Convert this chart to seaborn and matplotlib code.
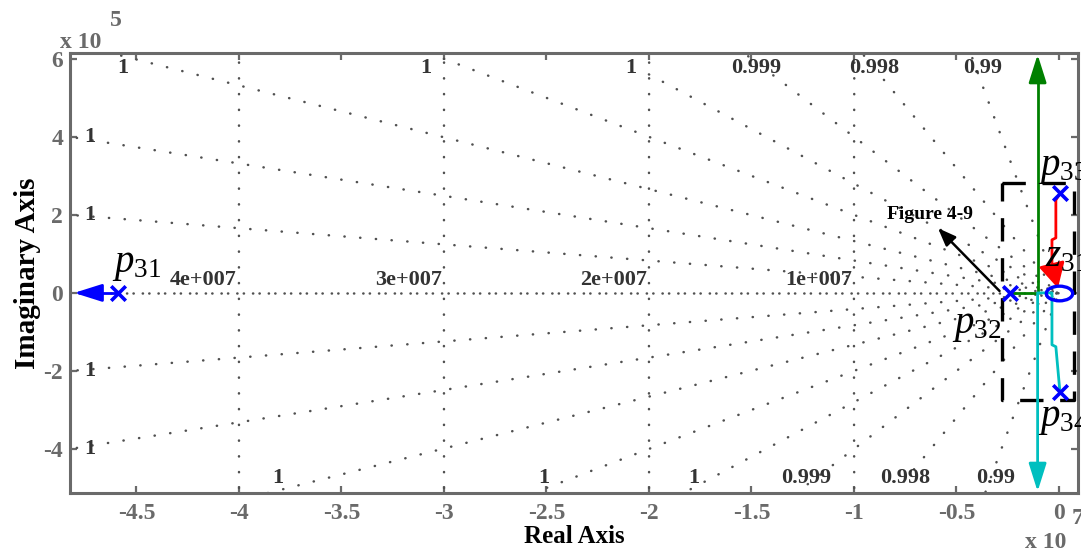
import numpy as np
import matplotlib
matplotlib.use("Agg")
import matplotlib.pyplot as plt
import seaborn as sns
from matplotlib.path import Path

sns.set_theme(style="white")
plt.rcParams['font.family'] = ['Liberation Serif', 'DejaVu Serif']
plt.rcParams['mathtext.fontset'] = 'custom'
plt.rcParams['mathtext.rm'] = 'Liberation Serif'
plt.rcParams['mathtext.it'] = 'Liberation Serif:italic'

W, H = 1081, 550
GRAY = '#6a6a6a'
GRID = '#505050'

# axis units: real part x1e7, imaginary part x1e5
x_lim = (-4.824, 0.093)
y_lim = (-5.13, 6.15)
x_ticks = [-4.5, -4, -3.5, -3, -2.5, -2, -1.5, -1, -0.5, 0]
x_tick_labels = ['-4.5', '-4', '-3.5', '-3', '-2.5', '-2', '-1.5', '-1', '-0.5', '0']
y_ticks = [-4, -2, 0, 2, 4, 6]
y_tick_labels = ['-4', '-2', '0', '2', '4', '6']

# s-plane grid: damping ratios, the radius (x1e7) each damping ray starts from,
# and natural-frequency circles (x1e7)
damping = [0.9999914, 0.9999656, 0.9999116, 0.99980, 0.999608, 0.99920, 0.99796, 0.99]
damping_start = [6.0, 6.0, 6.0, 3.0, 2.0, 2.0, 1.0, 1.0]
wn_circles = [1, 2, 3, 4]

# root locus branches
blue_re = [-4.59, -4.70]
blue_im = [0.0, 0.0]
green_re = [-0.24, -0.104, -0.104]
green_im = [0.0, 0.0, 5.6]
cyan_re = [0.005, -0.015, -0.034, -0.034, -0.104, -0.104]
cyan_im = [-2.55, -1.38, -1.33, 0.0, 0.0, -4.6]
red_re = [0.005, -0.015, -0.015, -0.034, -0.034]
red_im = [2.55, 2.38, 1.41, 1.36, 0.72]
red_tip = (-0.005, 0.12)

# poles and zero
pole_re = [-4.59, -0.24, 0.005, 0.005]
pole_im = [0.0, 0.0, 2.55, -2.55]
zero_re = [0.0]
zero_im = [0.0]

# dashed box around the dominant region
box_re = [-0.28, 0.075]
box_im = [-2.74, 2.82]

fig = plt.figure(figsize=(W / 100, H / 100), dpi=100)
ax = fig.add_axes([70 / W, (H - 493) / H, (1078 - 70) / W, (493 - 53) / H])
ax.set_xlim(*x_lim)
ax.set_ylim(*y_lim)

scale = 100.0  # ratio between the real and imaginary axis units
dot = dict(color=GRID, lw=1.8, linestyle=(0, (0.1, 6.2)), dash_capstyle='round', zorder=1)

# natural-frequency circles
phi = np.linspace(-np.pi / 2, np.pi / 2, 4001)
for wn in wn_circles:
    ax.plot(-wn * np.cos(phi), wn * np.sin(phi) * scale, **dot)

# real axis (zeta = 1)
ax.plot([x_lim[0], 0], [0, 0], **dot)
ax.plot([x_lim[0], 0], [0, 0], **{**dot, 'linestyle': (2.6, (0.1, 6.2))})

lab = dict(fontsize=16, fontweight='bold', color='#333333', zorder=2)
ytop, ybot = y_lim[1], y_lim[0]
for z, r0 in zip(damping, damping_start):
    s = np.tan(np.arccos(z)) * scale
    xs = np.array([-r0, 0.0])
    ax.plot(xs, -s * xs, **dot)
    ax.plot(xs, s * xs, **dot)
    lbl = f"{z:.3g}"
    # upper half label
    if s * min(r0, -x_lim[0]) < ytop:
        if r0 > -x_lim[0]:
            ax.text(x_lim[0] + 0.07, -s * x_lim[0], lbl, ha='left', va='center', **lab)
        else:
            ax.text(-r0 - 0.06, ytop - 0.12, lbl, ha='right', va='top', **lab)
    else:
        ax.text(-ytop / s + 0.06, ytop - 0.12, lbl, ha='center', va='top', **lab)
    # lower half label
    if s * min(r0, -x_lim[0]) < -ybot:
        if r0 > -x_lim[0]:
            ax.text(x_lim[0] + 0.07, s * x_lim[0], lbl, ha='left', va='center', **lab)
        else:
            ax.text(-r0, ybot + 0.12, lbl, ha='right', va='bottom', **lab)
    else:
        ax.text(ybot / s + 0.05, ybot + 0.12, lbl, ha='center', va='bottom', **lab)

for wn in wn_circles:
    ax.text(-wn - 0.01, 0.08, f"{wn}e+{7:03d}", ha='right', va='bottom', **lab)

# dashed box
bx = [box_re[0], box_re[1], box_re[1], box_re[0], box_re[0]]
by = [box_im[1], box_im[1], box_im[0], box_im[0], box_im[1]]
ax.plot(bx, by, color='black', lw=2.4, linestyle=(0, (7, 5)), zorder=3)

# root locus branches
lw = 2.0
line_kw = dict(sort=False, estimator=None, errorbar=None, lw=lw, ax=ax, zorder=4)
sns.lineplot(x=blue_re, y=blue_im, color='#0000FF', **line_kw)
sns.lineplot(x=green_re, y=green_im, color='#008000', **line_kw)
sns.lineplot(x=cyan_re, y=cyan_im, color='#00BFBF', **line_kw)
sns.lineplot(x=red_re, y=red_im, color='#FF0000', **line_kw)

def head(p_from, p_to, color, hl=0.95, hw=0.3):
    ax.annotate('', xy=p_to, xytext=p_from,
                arrowprops=dict(arrowstyle=f'-|>,head_length={hl},head_width={hw}',
                                color=color, lw=lw, shrinkA=0, shrinkB=0,
                                mutation_scale=18),
                zorder=5)

head((blue_re[-1], 0), (x_lim[0] + 0.02, 0), '#0000FF')
head((green_re[-1], green_im[-1]), (green_re[-1], ytop - 0.04), '#008000')
head((cyan_re[-1], cyan_im[-1]), (cyan_re[-1], ybot + 0.04), '#00BFBF')
head((red_re[-1], red_im[-1]), red_tip, '#FF0000', hl=0.85, hw=0.45)

# poles and zero
sns.scatterplot(x=pole_re, y=pole_im, marker='x', s=110, color='#0000FF',
                linewidth=2.6, ax=ax, zorder=6)
ell = Path.unit_circle()
ell = Path(ell.vertices * np.array([1.8, 1.0]), ell.codes)
ax.plot(zero_re, zero_im, marker=ell, ms=19, mfc='none', mec='#0000FF', mew=2.4,
        ls='none', zorder=6)

# pole / zero names
nm = dict(fontsize=28, color='black', zorder=7, clip_on=False)
ax.text(-4.62, 0.25, r'$p_{\mathit{31}}$', ha='left', va='bottom', **nm)
ax.text(-0.52, -1.3, r'$p_{\mathit{32}}$', ha='left', va='bottom', **nm)
ax.text(-0.1, 2.75, r'$p_{\mathit{33}}$', ha='left', va='bottom', **nm)
ax.text(-0.1, -3.7, r'$p_{\mathit{34}}$', ha='left', va='bottom', **nm)
ax.text(-0.07, 0.45, r'$z_{\mathit{31}}$', ha='left', va='bottom', **nm)

# callout to the detailed view
ax.annotate('Figure 4-9', xy=(-0.59, 1.66), xytext=(-0.63, 1.78),
            fontsize=14, fontweight='bold', color='black', ha='center', va='bottom', zorder=7)
ax.annotate('', xy=(-0.59, 1.66), xytext=(-0.29, 0.05),
            arrowprops=dict(arrowstyle='-|>,head_length=0.9,head_width=0.35',
                            color='black', lw=1.8, shrinkA=0, shrinkB=0), zorder=7)

# frame, ticks and labels
for sp in ax.spines.values():
    sp.set_color(GRAY)
    sp.set_linewidth(2.2)
    sp.set_visible(True)
ax.set_xticks(x_ticks)
ax.set_xticklabels(x_tick_labels)
ax.set_yticks(y_ticks)
ax.set_yticklabels(y_tick_labels)
ax.tick_params(direction='in', length=5, width=1.6, color=GRAY, labelcolor=GRAY,
               labelsize=17, top=True, right=True, bottom=True, left=True, pad=5)
ax.tick_params(axis='x', pad=7)
for t in ax.get_xticklabels() + ax.get_yticklabels():
    t.set_fontweight('bold')
ax.set_xlabel('Real Axis', fontsize=18, fontweight='bold', color='black', labelpad=1)
ax.set_ylabel('Imaginary Axis', fontsize=21, fontweight='bold', color='black', labelpad=2)

fig.text(60 / W, 1 - 48 / H, 'x 10', fontsize=17, fontweight='bold', color=GRAY,
         ha='left', va='baseline')
fig.text(110 / W, 1 - 26 / H, '5', fontsize=17, fontweight='bold', color=GRAY,
         ha='left', va='baseline')
fig.text(1025 / W, 1 - 548 / H, 'x 10', fontsize=17, fontweight='bold', color=GRAY,
         ha='left', va='baseline')
fig.text(1072 / W, 1 - 524 / H, '7', fontsize=17, fontweight='bold', color=GRAY,
         ha='left', va='baseline')

fig.savefig('out.png', dpi=100)
